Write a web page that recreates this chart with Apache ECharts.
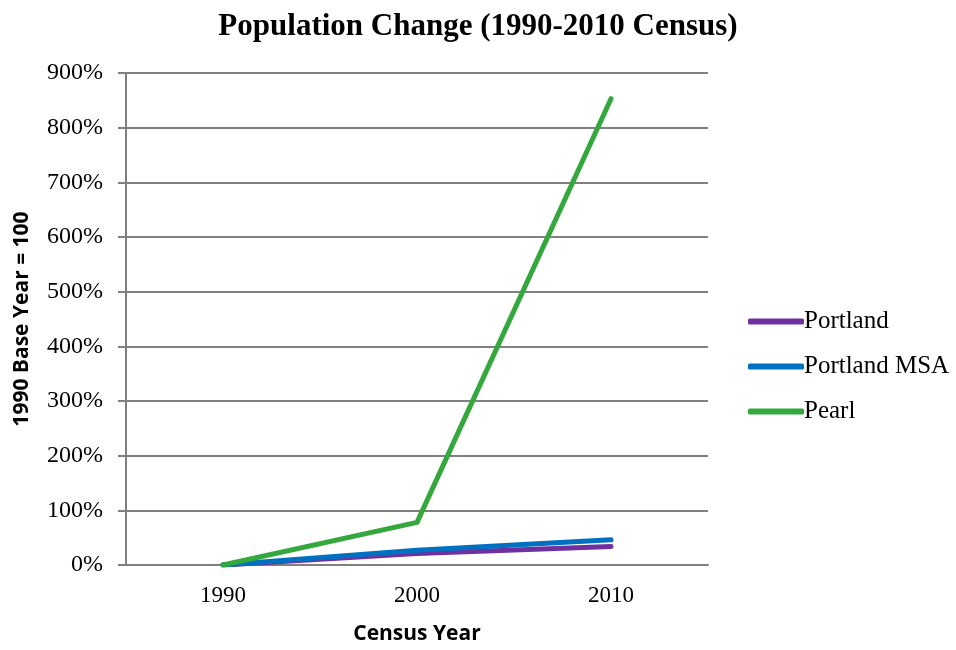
<!DOCTYPE html>
<html lang="en">
<head>
    <meta charset="UTF-8">
    <title>Population Change</title>
    <script type="text/javascript" src="https://cdn.jsdelivr.net/npm/echarts@6/dist/echarts.min.js"></script>
    <style>
        html, body { margin: 0; padding: 0; background: #fff; }
    </style>
</head>
<body>
<div id="main" style="width: 956px; height: 650px;"></div>

<script type="text/javascript">
    // census years (x axis)
    var years = ['1990', '2000', '2010'];
    // growth vs 1990, in percent
    var portland = [0, 21, 34];
    var portlandMSA = [0, 27, 46];
    var pearl = [0, 78, 853];

    var serif = '"Liberation Serif", "DejaVu Serif", serif';
    var sans = '"Open Sans", "Liberation Sans", sans-serif';

    var myChart = echarts.init(document.getElementById('main'));

    function line(name, data, color) {
        return {
            name: name,
            type: 'line',
            data: data,
            symbol: 'none',
            lineStyle: { width: 5, color: color, cap: 'round', join: 'round' },
            itemStyle: { color: color },
            animation: false
        };
    }

    myChart.setOption({
        title: {
            text: 'Population Change (1990-2010 Census)',
            left: 'center',
            top: 6,
            textStyle: { fontFamily: serif, fontSize: 31, fontWeight: 'bold', color: '#000' }
        },
        legend: {
            orient: 'vertical',
            left: 743,
            top: 304,
            itemWidth: 56,
            itemHeight: 6,
            itemGap: 20,
            icon: 'roundRect',
            textStyle: { fontFamily: serif, fontSize: 25, color: '#000', padding: [0, 0, 0, -5] },
            data: ['Portland', 'Portland MSA', 'Pearl']
        },
        grid: { left: 126, right: 248, top: 73, bottom: 84 },
        xAxis: {
            type: 'category',
            data: years,
            boundaryGap: true,
            name: 'Census Year',
            nameLocation: 'middle',
            nameGap: 59,
            nameTextStyle: { fontFamily: sans, fontSize: 21, fontWeight: 'bold', color: '#000' },
            axisLine: { lineStyle: { color: '#808080', width: 2 } },
            axisTick: { alignWithLabel: false, length: 8, lineStyle: { color: '#808080', width: 2 } },
            axisLabel: { fontFamily: serif, fontSize: 23, color: '#000', margin: 19 }
        },
        yAxis: {
            type: 'value',
            min: 0,
            max: 900,
            interval: 100,
            name: '1990 Base Year = 100',
            nameLocation: 'middle',
            nameRotate: 90,
            nameGap: 93,
            nameTextStyle: { fontFamily: sans, fontSize: 21, fontWeight: 'bold', color: '#000' },
            axisLine: { show: true, lineStyle: { color: '#808080', width: 2 } },
            axisTick: { show: true, length: 8, lineStyle: { color: '#808080', width: 2 } },
            axisLabel: { fontFamily: serif, fontSize: 24, color: '#000', margin: 23, formatter: '{value}%' },
            splitLine: { lineStyle: { color: '#808080', width: 2 } }
        },
        series: [
            line('Portland', portland, '#7030A0'),
            line('Portland MSA', portlandMSA, '#0070C0'),
            line('Pearl', pearl, '#35A83D')
        ]
    });
</script>
</body>
</html>
